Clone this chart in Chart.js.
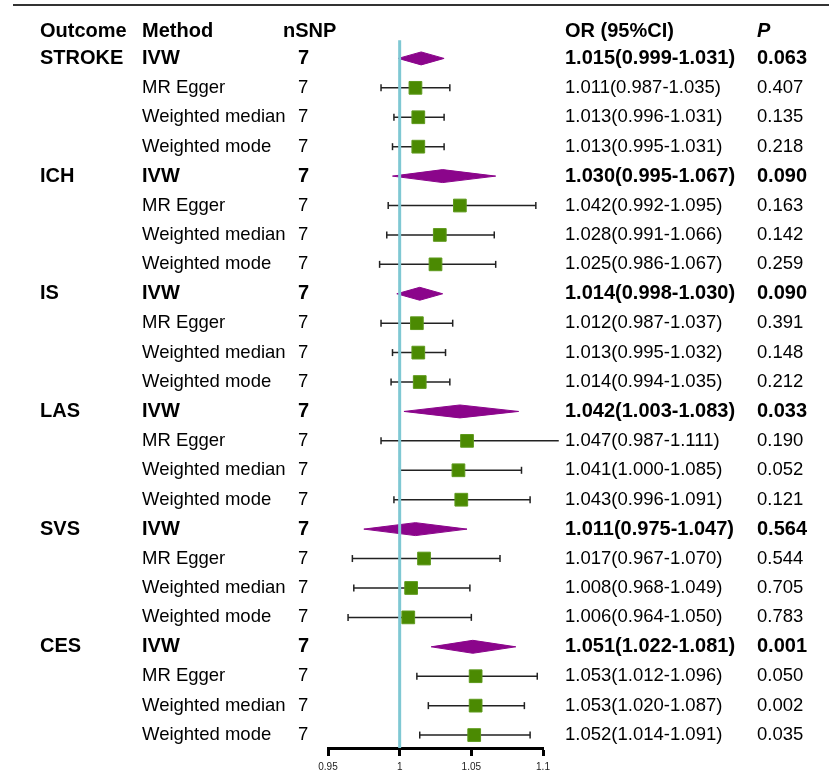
<!DOCTYPE html>
<html lang="en">
<head>
    <meta charset="UTF-8">
    <title>Forest plot</title>
    <script src="https://cdn.jsdelivr.net/npm/chart.js"></script>
    <style>
        body { margin: 0; background: #fff; }
        #wrap { position: relative; width: 829px; height: 775px; }
    </style>
</head>
<body>
    <div id="wrap"><canvas id="chart"></canvas></div>

    <script>
        // table data, one entry per row (6 outcomes x 4 methods)
        var outcomes = ['STROKE', 'ICH', 'IS', 'LAS', 'SVS', 'CES'];
        var methods = ['IVW', 'MR Egger', 'Weighted median', 'Weighted mode'];
        var nSNP = [7, 7, 7, 7, 7, 7, 7, 7, 7, 7, 7, 7, 7, 7, 7, 7, 7, 7, 7, 7, 7, 7, 7, 7];
        var orValues = [1.015, 1.011, 1.013, 1.013,
                        1.030, 1.042, 1.028, 1.025,
                        1.014, 1.012, 1.013, 1.014,
                        1.042, 1.047, 1.041, 1.043,
                        1.011, 1.017, 1.008, 1.006,
                        1.051, 1.053, 1.053, 1.052];
        var lowerCI = [0.999, 0.987, 0.996, 0.995,
                       0.995, 0.992, 0.991, 0.986,
                       0.998, 0.987, 0.995, 0.994,
                       1.003, 0.987, 1.000, 0.996,
                       0.975, 0.967, 0.968, 0.964,
                       1.022, 1.012, 1.020, 1.014];
        var upperCI = [1.031, 1.035, 1.031, 1.031,
                       1.067, 1.095, 1.066, 1.067,
                       1.030, 1.037, 1.032, 1.035,
                       1.083, 1.111, 1.085, 1.091,
                       1.047, 1.070, 1.049, 1.050,
                       1.081, 1.096, 1.087, 1.091];
        var pValues = ['0.063', '0.407', '0.135', '0.218',
                       '0.090', '0.163', '0.142', '0.259',
                       '0.090', '0.391', '0.148', '0.212',
                       '0.033', '0.190', '0.052', '0.121',
                       '0.564', '0.544', '0.705', '0.783',
                       '0.001', '0.050', '0.002', '0.035'];
        var xTicks = [0.95, 1, 1.05, 1.1];
        var nullLine = 1;

        var FONT = '"Liberation Sans", Arial, sans-serif';
        var DIAMOND_H = 0.22;   // half height of the IVW diamonds, in rows
        var Y_MAX = 23.44;

        // build datasets
        var whiskers = [];
        var squares = [];
        var datasets = [];
        for (var i = 0; i < orValues.length; i++) {
            if (i % 4 === 0) {
                datasets.push({
                    data: [
                        { x: lowerCI[i], y: i },
                        { x: orValues[i], y: i - DIAMOND_H },
                        { x: upperCI[i], y: i },
                        { x: orValues[i], y: i + DIAMOND_H },
                        { x: lowerCI[i], y: i }
                    ],
                    showLine: true,
                    fill: 'shape',
                    backgroundColor: '#8b058b',
                    borderColor: '#8b058b',
                    borderWidth: 1,
                    pointRadius: 0,
                    tension: 0,
                    order: 4
                });
            } else {
                whiskers.push({ x: lowerCI[i], y: i }, { x: upperCI[i], y: i }, { x: null, y: null });
                squares.push({ x: orValues[i], y: i });
            }
        }

        datasets.push({
            data: whiskers,
            showLine: true,
            spanGaps: false,
            borderColor: '#222',
            borderWidth: 1.5,
            pointStyle: 'line',
            pointRotation: 90,
            pointRadius: 3.5,
            pointBorderColor: '#222',
            pointBorderWidth: 1.5,
            order: 5
        });
        datasets.push({
            data: [{ x: nullLine, y: -0.62 }, { x: nullLine, y: Y_MAX }],
            showLine: true,
            borderColor: '#7fc8d3',
            borderWidth: 3,
            pointRadius: 0,
            order: 3
        });
        datasets.push({
            data: squares,
            pointStyle: 'rect',
            pointRadius: 9,
            backgroundColor: '#4b8a02',
            borderColor: '#5e9a1c',
            borderWidth: 1,
            order: 1
        });

        var tablePlugin = {
            id: 'table',
            afterDraw: function(chart) {
                var ctx = chart.ctx;
                var y = chart.scales.y;
                ctx.save();
                ctx.fillStyle = '#000';
                ctx.textBaseline = 'middle';
                ctx.textAlign = 'left';

                // top rule
                ctx.strokeStyle = '#333';
                ctx.lineWidth = 2;
                ctx.beginPath();
                ctx.moveTo(13, 5);
                ctx.lineTo(829, 5);
                ctx.stroke();

                var hy = y.getPixelForValue(-0.93);
                ctx.font = 'bold 20px ' + FONT;
                ctx.fillText('Outcome', 40, hy);
                ctx.fillText('Method', 142, hy);
                ctx.fillText('nSNP', 283, hy);
                ctx.fillText('OR (95%CI)', 565, hy);
                ctx.font = 'italic bold 20px ' + FONT;
                ctx.fillText('P', 757, hy);

                for (var i = 0; i < orValues.length; i++) {
                    var ry = y.getPixelForValue(i);
                    var m = i % 4;
                    var bold = m === 0;
                    ctx.font = (bold ? 'bold 20px ' : '18.5px ') + FONT;
                    if (bold) ctx.fillText(outcomes[i / 4], 40, ry);
                    ctx.fillText(methods[m], 142, ry);
                    ctx.fillText(String(nSNP[i]), 298, ry);
                    ctx.fillText(orValues[i].toFixed(3) + '(' + lowerCI[i].toFixed(3) + '-' + upperCI[i].toFixed(3) + ')', 565, ry);
                    ctx.fillText(pValues[i], 757, ry);
                }
                ctx.restore();
            }
        };

        new Chart(document.getElementById('chart'), {
            type: 'scatter',
            data: { datasets: datasets },
            options: {
                responsive: true,
                maintainAspectRatio: false,
                animation: false,
                clip: false,
                layout: { padding: { left: 328, right: 286, top: 29, bottom: -3 } },
                plugins: { legend: { display: false }, tooltip: { enabled: false } },
                scales: {
                    x: {
                        type: 'linear',
                        min: 0.95,
                        max: 1.1,
                        afterBuildTicks: function(scale) {
                            scale.ticks = xTicks.map(function(v) { return { value: v }; });
                        },
                        ticks: {
                            autoSkip: false,
                            maxRotation: 0,
                            padding: 5,
                            color: '#222',
                            font: { family: FONT, size: 10 },
                            callback: function(v) { return String(v); }
                        },
                        grid: {
                            drawOnChartArea: false,
                            tickLength: 8,
                            tickWidth: 3,
                            tickColor: '#000'
                        },
                        border: { display: true, color: '#000', width: 3 }
                    },
                    y: {
                        type: 'linear',
                        reverse: true,
                        min: -1,
                        max: Y_MAX,
                        display: false
                    }
                }
            },
            plugins: [tablePlugin]
        });
    </script>
</body>
</html>
